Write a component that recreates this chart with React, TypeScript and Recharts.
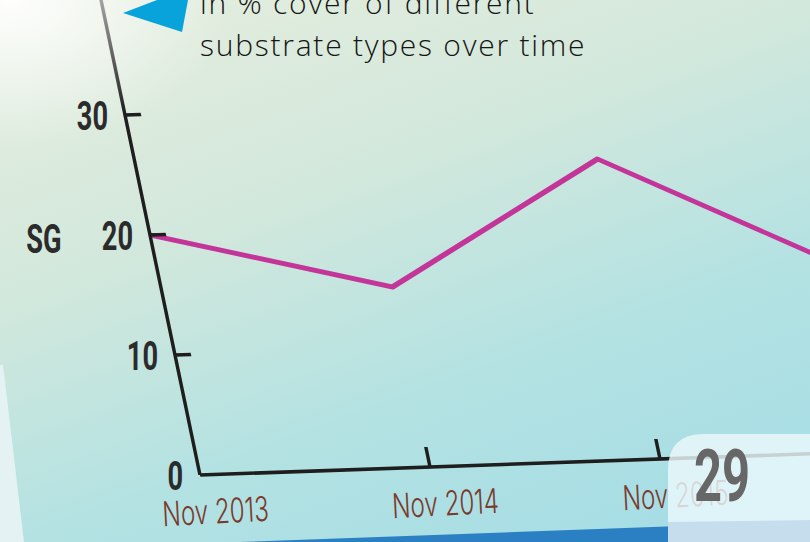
import { LineChart, Line, XAxis, YAxis } from 'recharts'

const months = ['Nov 2013', 'Nov 2014', 'Nov 2015', 'Nov 2016']
const sgCover = [20, 15, 25, 15]
const yTicks = [0, 10, 20, 30]

const data = months.map((month, i) => ({ month, SG: sgCover[i] }))

// the flat chart is sheared so it sits on the tilted sheet
const SHEAR_X = 25 / 120
const SHEAR_Y = -8 / 230
const det = 1 - SHEAR_X * SHEAR_Y
// undoes the shear for text so the glyphs stay upright
const UNSHEAR = `matrix(${1 / det},${-SHEAR_Y / det},${-SHEAR_X / det},${1 / det},0,0)`

const INK = '#1e1e1e'

function YTick(props: any) {
  const { x, y, payload } = props
  return (
    <g>
      {payload.value > 0 && (
        <line x1={x} x2={x + 16} y1={y} y2={y} stroke={INK} strokeWidth={3.5} />
      )}
      <text
        transform={`translate(${x - 17},${y}) ${UNSHEAR} scale(0.68,1)`}
        textAnchor="end"
        dominantBaseline="central"
        fontFamily="Roboto"
        fontWeight={700}
        fontSize={40}
        fill="#2b2b2b"
      >
        {payload.value}
      </text>
    </g>
  )
}

function XTick(props: any) {
  const { x, y, payload, index } = props
  return (
    <g>
      {index > 0 && <line x1={x} x2={x} y1={y} y2={y - 20} stroke={INK} strokeWidth={3.5} />}
      <text
        transform={`translate(${x + 8},${y + 36}) ${UNSHEAR} rotate(-3) scale(0.78,1.1)`}
        textAnchor="middle"
        dominantBaseline="central"
        fontFamily="Inter"
        fontWeight={300}
        fontSize={31}
        fill="#7a3a2c"
      >
        {payload.value}
      </text>
    </g>
  )
}

function SgLabel(props: any) {
  const { x, y, width, height } = props.viewBox
  return (
    <text
      transform={`translate(${x + width - 106},${y + height / 2}) ${UNSHEAR} scale(0.68,1)`}
      textAnchor="middle"
      dominantBaseline="central"
      fontFamily="Roboto"
      fontWeight={700}
      fontSize={40}
      fill="#2b2b2b"
    >
      SG
    </text>
  )
}

export default function App() {
  return (
    <div
      style={{
        position: 'fixed',
        left: 0,
        top: 0,
        width: 810,
        height: 542,
        overflow: 'hidden',
        background:
          'radial-gradient(ellipse 220px 150px at 10px 0px, rgba(255,255,255,0.95), rgba(255,255,255,0) 100%), linear-gradient(160deg, #e6eede 0%, #d3e8dc 35%, #b4e2e2 65%, #a2dce6 100%)',
      }}
    >
      <div
        style={{
          position: 'absolute',
          left: 0,
          top: -15,
          width: 910,
          height: 550,
          transformOrigin: '200px 490px',
          transform: `matrix(1, ${SHEAR_Y}, ${SHEAR_X}, 1, 0, 0)`,
        }}
      >
        <LineChart width={910} height={550} data={data} margin={{ top: 10, right: 20, bottom: 0, left: 0 }}>
          <defs>
            <linearGradient id="axisFade" gradientUnits="userSpaceOnUse" x1="0" y1="10" x2="0" y2="130">
              <stop offset="0" stopColor="#a8a8a8" />
              <stop offset="1" stopColor={INK} />
            </linearGradient>
          </defs>
          <XAxis
            dataKey="month"
            height={60}
            interval={0}
            tickLine={false}
            tickSize={0}
            tickMargin={0}
            axisLine={{ stroke: INK, strokeWidth: 3.5 }}
            tick={<XTick />}
          />
          <YAxis
            type="number"
            width={200}
            domain={[0, 40]}
            ticks={yTicks}
            tickLine={false}
            tickSize={0}
            tickMargin={0}
            axisLine={{ stroke: 'url(#axisFade)', strokeWidth: 3.5 }}
            tick={<YTick />}
            label={<SgLabel />}
          />
          <Line
            type="linear"
            dataKey="SG"
            stroke="#c4359a"
            strokeWidth={5}
            strokeLinejoin="round"
            dot={false}
            isAnimationActive={false}
          />
        </LineChart>
      </div>

      <div
        style={{
          position: 'absolute',
          left: 200,
          top: -18,
          fontFamily: '"Open Sans"',
          fontWeight: 300,
          fontSize: 30,
          lineHeight: '42px',
          letterSpacing: 1.75,
          color: '#151515',
          whiteSpace: 'nowrap',
        }}
      >
        in % cover of different
        <br />
        substrate types over time
      </div>

      <svg width={810} height={542} style={{ position: 'absolute', left: 0, top: 0 }}>
        <polygon points="0,365 3,365 24,542 0,542" fill="#e4f2f4" />
        <polygon points="240,542 680,526 680,542" fill="#2b80c4" />
        <path d="M668,542 L668,470 Q668,434 704,434 L810,434 L810,542 Z" fill="rgba(236,249,251,0.82)" />
        <path d="M668,522 L810,520 L810,542 L668,542 Z" fill="#c6ddee" />
        <text
          transform="translate(722,476) scale(0.67,1)"
          textAnchor="middle"
          dominantBaseline="central"
          fontFamily="Roboto"
          fontWeight={700}
          fontSize={73}
          fill="#676767"
        >
          29
        </text>
        <polygon points="123,13 157,0 188,0 182,32" fill="#08a3da" />
      </svg>
    </div>
  )
}
